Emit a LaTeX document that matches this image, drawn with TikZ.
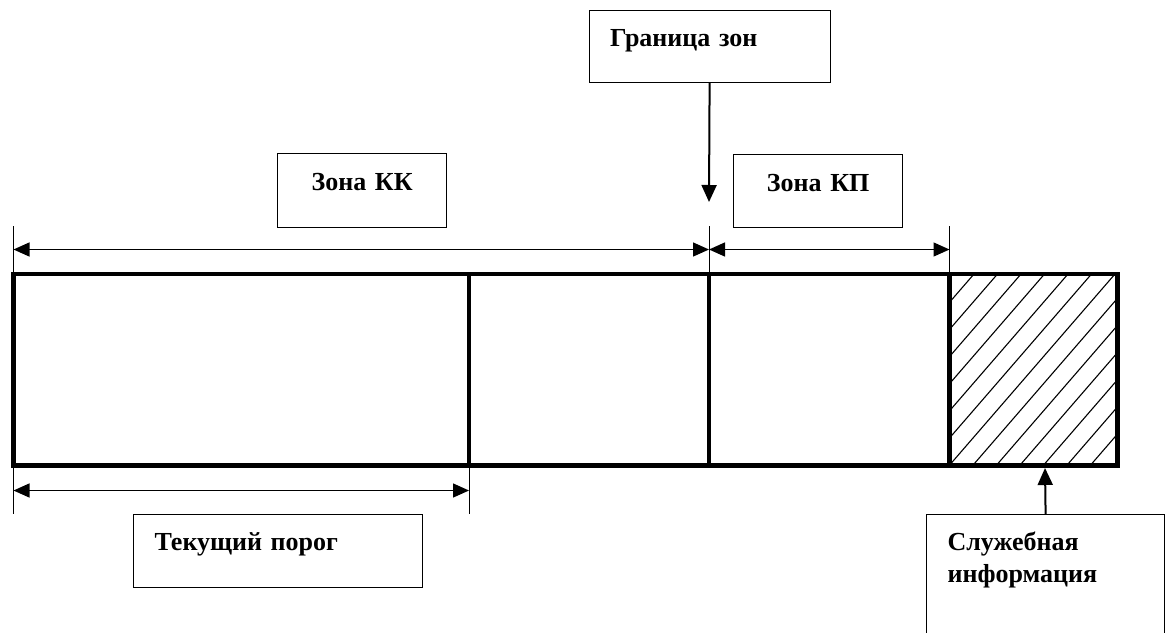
\documentclass[tikz,border=0pt]{standalone}
\usepackage{fontspec}
\setmainfont{Liberation Serif}
\usetikzlibrary{arrows.meta}

\begin{document}
\begin{tikzpicture}[x=1pt, y=-1pt,
    box/.style={draw, line width=1.2pt, anchor=north west, inner xsep=21pt, inner ysep=0pt, text height=36pt, align=left, font=\fontsize{26pt}{32pt}\selectfont\bfseries},
    zone/.style={box, align=center, text height=37pt},
    dim/.style={line width=1.4pt, {Triangle[length=16pt,width=14pt]}-{Triangle[length=16pt,width=14pt]}},
    ptr/.style={line width=2pt, -{Triangle[length=17pt,width=15pt]}},
    tick/.style={line width=1pt},
    cell/.style={line width=4.8pt}
]
\clip (0,0) rectangle (1174,632);

% Служебная зона (штриховка)
\begin{scope}
\clip (949.5,274) rectangle (1117.5,465.5);
\foreach \k in {-1,...,13}
    \draw[line width=1.1pt] (974+23.5*\k,274) -- (808.2+23.5*\k,465.5);
\end{scope}

% Полоса
\draw[cell] (13.5,274) rectangle (1117.5,465.5);
\draw[cell] (469,274) -- (469,465.5);
\draw[cell] (709,274) -- (709,465.5);
\draw[cell] (949.5,274) -- (949.5,465.5);

% Выносные линии
\draw[tick] (13.5,226) -- (13.5,274);
\draw[tick] (709,226) -- (709,274);
\draw[tick] (949.5,226) -- (949.5,274);
\draw[tick] (13.5,465.5) -- (13.5,514);
\draw[tick] (469,465.5) -- (469,514);

% Размерные линии
\coordinate (kkL) at (13.5,249.5);
\coordinate (kkR) at (709,249.5);
\coordinate (kpR) at (949.5,249.5);
\coordinate (porL) at (13.5,490.5);
\coordinate (porR) at (469,490.5);
\draw[dim] (kkL) -- (kkR);
\draw[dim] (kkR) -- (kpR);
\draw[dim] (porL) -- (porR);

% Подписи
\node[box, text width=199pt, text depth=36pt] (granica) at (588.5,10) {Граница зон};
\node[zone, text width=127pt, text depth=37pt] (zonakk) at (277,153) {Зона КК};
\node[zone, text width=127pt, text depth=36pt] (zonakp) at (733,154) {Зона КП};
\node[box, text width=247pt, text depth=37pt] (porog) at (133,514) {Текущий порог};
\node[box, text width=196pt, text depth=110pt] (sluzh) at (926,514) {Служебная\\информация};

% Стрелки
\coordinate (granEnd) at (709,202);
\coordinate (sluzhEnd) at (1045,468);
\draw[ptr] (granica.south) -- (granEnd);
\draw[ptr] (sluzh.north) -- (sluzhEnd);

\end{tikzpicture}
\end{document}
